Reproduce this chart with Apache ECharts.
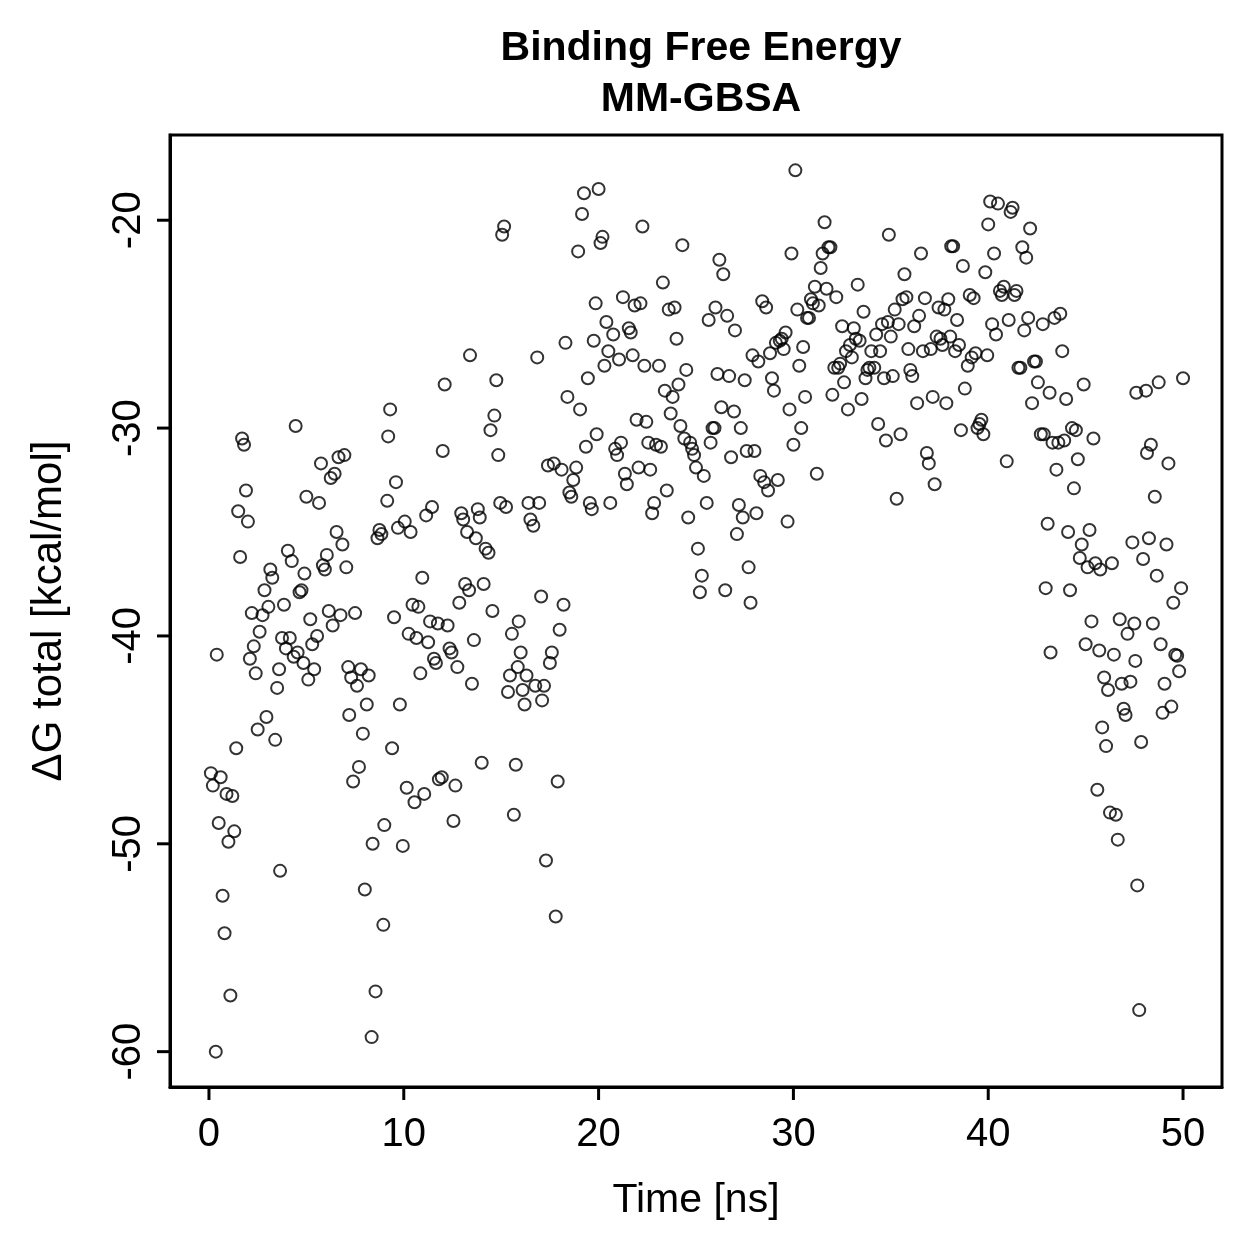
<!DOCTYPE html>
<html>
<head>
<meta charset="utf-8">
<title>Binding Free Energy MM-GBSA</title>
<script src="https://cdn.jsdelivr.net/npm/echarts@6/dist/echarts.min.js"></script>
<style>
  html, body { margin: 0; padding: 0; background: #fff; }
  #chartBox { width: 1259px; height: 1259px; }
</style>
</head>
<body>
<div id="chartBox"></div>
<script>
// [time (ns), dG total (kcal/mol)], in 10 ns blocks
const block0to10 = [
  [0.1,-46.6],[0.2,-47.2],[0.35,-60.0],[0.4,-40.9],[0.5,-49.0],[0.6,-46.8],[0.7,-52.5],[0.8,-54.3],[0.9,-47.6],[1.0,-49.9],
  [1.1,-57.3],[1.2,-47.7],[1.3,-49.4],[1.4,-45.4],[1.5,-34.0],[1.6,-36.2],[1.7,-30.5],[1.8,-30.8],[1.9,-33.0],[2.0,-34.5],
  [2.1,-41.1],[2.2,-38.9],[2.3,-40.5],[2.4,-41.8],[2.5,-44.5],[2.6,-39.8],[2.75,-39.0],[2.85,-37.8],[2.95,-43.9],[3.05,-38.6],
  [3.15,-36.8],[3.25,-37.2],[3.4,-45.0],[3.5,-42.5],[3.6,-41.6],[3.65,-51.3],[3.75,-40.1],[3.85,-38.5],[3.95,-40.6],[4.05,-35.9],
  [4.15,-40.1],[4.25,-36.4],[4.35,-41.0],[4.45,-29.9],[4.55,-40.8],[4.65,-37.9],[4.75,-37.8],[4.85,-41.3],[4.9,-37.0],[5.0,-33.3],
  [5.1,-42.1],[5.2,-39.2],[5.3,-40.4],[5.4,-41.6],[5.55,-40.0],[5.65,-33.6],[5.75,-31.7],[5.85,-36.6],[5.95,-36.8],[6.05,-36.1],
  [6.15,-38.8],[6.25,-32.4],[6.35,-39.5],[6.45,-32.2],[6.55,-35.0],[6.65,-31.4],[6.75,-39.0],[6.85,-35.6],[6.95,-31.3],[7.05,-36.7],
  [7.15,-41.5],[7.2,-43.8],[7.3,-42.0],[7.4,-47.0],[7.5,-38.9],[7.6,-42.4],[7.7,-46.3],[7.8,-41.6],[7.9,-44.7],[8.0,-52.2],
  [8.1,-43.3],[8.2,-41.9],[8.35,-59.3],[8.4,-50.0],[8.55,-57.1],[8.65,-35.3],[8.75,-34.9],[8.85,-35.1],[8.95,-53.9],[9.0,-49.1],
  [9.15,-33.5],[9.2,-30.4],[9.3,-29.1],[9.4,-45.4],[9.5,-39.1],[9.6,-32.6],[9.7,-34.8],[9.8,-43.3],[9.95,-50.1]
];
const block10to20 = [
  [10.05,-34.5],[10.15,-47.3],[10.25,-39.9],[10.35,-35.0],[10.45,-38.5],[10.55,-48.0],[10.65,-40.1],[10.75,-38.6],[10.85,-41.8],[10.95,-37.2],
  [11.05,-47.6],[11.15,-34.2],[11.25,-40.3],[11.35,-39.3],[11.45,-33.8],[11.55,-41.1],[11.65,-41.3],[11.75,-39.4],[11.8,-46.9],[11.95,-46.8],
  [12.0,-31.1],[12.1,-27.9],[12.25,-39.5],[12.35,-40.6],[12.45,-40.8],[12.55,-48.9],[12.65,-47.2],[12.75,-41.5],[12.85,-38.4],[12.95,-34.1],
  [13.05,-34.4],[13.15,-37.5],[13.25,-35.0],[13.35,-37.8],[13.4,-26.5],[13.5,-42.3],[13.6,-40.2],[13.7,-35.3],[13.8,-33.9],[13.9,-34.3],
  [14.0,-46.1],[14.1,-37.5],[14.2,-35.8],[14.35,-36.0],[14.45,-30.1],[14.55,-38.8],[14.65,-29.4],[14.75,-27.7],[14.85,-31.3],[14.95,-33.6],
  [15.05,-20.7],[15.15,-20.3],[15.25,-33.8],[15.35,-42.7],[15.45,-41.9],[15.55,-39.9],[15.65,-48.6],[15.75,-46.2],[15.85,-41.5],[15.9,-39.3],
  [16.0,-40.8],[16.1,-42.6],[16.2,-43.3],[16.3,-41.9],[16.4,-33.6],[16.5,-34.4],[16.65,-34.7],[16.75,-42.4],[16.85,-26.6],[16.95,-33.6],
  [17.05,-38.1],[17.1,-43.1],[17.2,-42.4],[17.3,-50.8],[17.4,-31.8],[17.5,-41.3],[17.6,-40.8],[17.7,-31.7],[17.8,-53.5],[17.9,-47.0],
  [18.0,-39.7],[18.1,-32.0],[18.2,-38.5],[18.3,-25.9],[18.4,-28.5],[18.5,-33.1],[18.6,-33.3],[18.7,-32.5],[18.85,-31.9],[18.95,-21.5],
  [19.05,-29.1],[19.15,-19.7],[19.25,-18.7],[19.35,-30.9],[19.45,-27.6],[19.55,-33.6],[19.65,-33.9],[19.75,-25.8],[19.85,-24.0],[19.9,-30.3]
];
const block20to30 = [
  [20.0,-18.5],[20.1,-21.1],[20.2,-20.8],[20.3,-27.0],[20.4,-24.9],[20.5,-26.3],[20.6,-33.6],[20.75,-25.5],[20.85,-31.0],[20.95,-31.3],
  [21.05,-26.7],[21.15,-30.7],[21.25,-23.7],[21.35,-32.2],[21.45,-32.7],[21.55,-25.2],[21.65,-25.4],[21.75,-26.5],[21.85,-24.1],[21.95,-29.6],
  [22.05,-31.9],[22.15,-24.0],[22.25,-20.3],[22.35,-27.0],[22.45,-29.7],[22.55,-30.7],[22.65,-32.0],[22.75,-34.1],[22.85,-33.6],[22.95,-30.8],
  [23.1,-27.0],[23.2,-30.9],[23.3,-23.0],[23.4,-28.2],[23.5,-33.0],[23.6,-24.3],[23.7,-29.3],[23.8,-28.5],[23.9,-24.2],[24.0,-25.7],
  [24.1,-27.9],[24.2,-29.9],[24.3,-21.2],[24.4,-30.5],[24.5,-27.2],[24.6,-34.3],[24.7,-30.7],[24.8,-31.0],[24.9,-31.3],[25.0,-31.9],
  [25.1,-35.8],[25.2,-37.9],[25.3,-37.1],[25.4,-32.3],[25.55,-33.6],[25.65,-24.8],[25.75,-30.7],[25.85,-30.0],[25.95,-30.0],[26.0,-24.2],
  [26.1,-27.4],[26.2,-21.9],[26.3,-29.0],[26.4,-22.6],[26.5,-37.8],[26.6,-24.6],[26.7,-27.5],[26.8,-31.4],[26.95,-29.2],[27.0,-25.3],
  [27.1,-35.1],[27.2,-33.7],[27.3,-30.0],[27.4,-34.3],[27.5,-27.7],[27.6,-31.1],[27.7,-36.7],[27.8,-38.4],[27.9,-26.5],[28.0,-31.1],
  [28.1,-34.1],[28.2,-26.8],[28.3,-32.3],[28.4,-23.9],[28.5,-32.6],[28.6,-24.2],[28.7,-33.0],[28.8,-26.4],[28.9,-27.6],[29.0,-28.2],
  [29.1,-25.9],[29.2,-32.5],[29.3,-25.8],[29.4,-25.7],[29.5,-26.2],[29.6,-25.4],[29.7,-34.5],[29.8,-29.1],[29.9,-21.6],[30.0,-30.8]
];
const block30to40 = [
  [30.1,-17.6],[30.2,-24.3],[30.3,-27.0],[30.4,-30.0],[30.5,-26.1],[30.6,-28.5],[30.7,-24.7],[30.8,-24.7],[30.9,-23.8],[31.0,-24.0],
  [31.1,-23.2],[31.2,-32.2],[31.3,-24.1],[31.4,-22.3],[31.5,-21.6],[31.6,-20.1],[31.7,-23.3],[31.8,-21.3],[31.9,-21.3],[32.0,-28.4],
  [32.1,-27.1],[32.2,-23.7],[32.3,-27.1],[32.4,-26.9],[32.5,-25.1],[32.6,-27.8],[32.7,-26.3],[32.8,-29.1],[32.9,-26.0],[33.0,-26.6],
  [33.1,-25.2],[33.2,-25.7],[33.3,-23.1],[33.4,-25.8],[33.5,-28.6],[33.6,-24.4],[33.7,-27.6],[33.8,-27.2],[33.9,-27.1],[34.0,-26.3],
  [34.15,-27.1],[34.25,-25.5],[34.35,-29.8],[34.45,-26.3],[34.55,-25.0],[34.65,-27.6],[34.75,-30.6],[34.85,-24.9],[34.9,-20.7],[35.0,-25.6],
  [35.1,-27.5],[35.2,-24.3],[35.3,-33.4],[35.4,-25.0],[35.5,-30.3],[35.6,-23.8],[35.7,-22.6],[35.8,-23.7],[35.9,-26.2],[36.0,-27.2],
  [36.1,-27.5],[36.2,-25.1],[36.35,-28.8],[36.45,-24.6],[36.55,-21.6],[36.65,-26.3],[36.75,-23.75],[36.85,-31.2],[36.95,-31.7],[37.05,-26.2],
  [37.15,-28.5],[37.25,-32.7],[37.35,-25.6],[37.45,-24.2],[37.55,-25.7],[37.65,-26.0],[37.75,-24.3],[37.85,-28.8],[37.95,-23.8],[38.05,-25.6],
  [38.1,-21.25],[38.2,-21.25],[38.3,-26.3],[38.4,-24.8],[38.5,-26.0],[38.6,-30.1],[38.7,-22.2],[38.8,-28.1],[38.95,-27.0],[39.05,-23.6],
  [39.15,-26.6],[39.25,-23.75],[39.35,-26.4],[39.45,-30.0],[39.55,-29.8],[39.65,-29.6],[39.75,-30.3],[39.85,-22.5],[39.95,-26.5]
];
const block40to50 = [
  [40.0,-20.2],[40.1,-19.1],[40.2,-25.0],[40.3,-21.6],[40.4,-25.5],[40.5,-19.2],[40.6,-23.4],[40.7,-23.6],[40.8,-23.2],[40.95,-31.6],
  [41.05,-24.8],[41.15,-19.6],[41.25,-19.4],[41.35,-23.6],[41.45,-23.4],[41.55,-27.1],[41.65,-27.1],[41.75,-21.3],[41.85,-25.3],[41.95,-21.8],
  [42.05,-24.7],[42.15,-20.4],[42.25,-28.8],[42.35,-26.8],[42.45,-26.8],[42.55,-27.8],[42.7,-30.3],[42.8,-25.0],[42.85,-30.3],[42.95,-37.7],
  [43.05,-34.6],[43.15,-28.3],[43.2,-40.8],[43.3,-30.7],[43.4,-24.7],[43.5,-32.0],[43.6,-30.7],[43.7,-24.5],[43.8,-26.3],[43.9,-30.6],
  [44.0,-28.6],[44.1,-35.0],[44.2,-37.8],[44.3,-30.0],[44.4,-32.9],[44.5,-30.1],[44.6,-31.5],[44.7,-36.25],[44.8,-35.6],[44.9,-27.9],
  [45.0,-40.4],[45.1,-36.7],[45.2,-34.9],[45.3,-39.3],[45.4,-30.5],[45.5,-36.5],[45.6,-47.4],[45.7,-40.7],[45.75,-36.8],[45.85,-44.4],
  [45.95,-42.0],[46.05,-45.3],[46.15,-42.6],[46.25,-48.5],[46.35,-36.5],[46.45,-40.9],[46.55,-48.6],[46.65,-49.8],[46.75,-39.2],[46.85,-42.3],
  [46.95,-43.5],[47.05,-43.8],[47.15,-39.9],[47.3,-42.2],[47.4,-35.5],[47.5,-39.4],[47.55,-41.2],[47.6,-28.3],[47.65,-52.0],[47.75,-58.0],
  [47.85,-45.1],[47.95,-36.3],[48.1,-28.2],[48.15,-31.2],[48.25,-35.3],[48.35,-30.8],[48.45,-39.4],[48.55,-33.3],[48.65,-37.1],[48.75,-27.8],
  [48.85,-40.4],[48.95,-43.7],[49.05,-42.3],[49.15,-35.6],[49.25,-31.7],[49.4,-43.4],[49.5,-38.4],[49.6,-40.9],[49.7,-40.95],[49.8,-41.7],
  [49.9,-37.7],[50.0,-27.6]
];

const xTicks = [0, 10, 20, 30, 40, 50];
const yTicks = [-60, -50, -40, -30, -20];

const points = [].concat(block0to10, block10to20, block20to30, block30to40, block40to50);

const font = 'Liberation Sans, Arial, Helvetica, sans-serif';
const xMin = -2, xMax = 52;
const yMin = -61.7, yMax = -15.9;
const tickLen = 13;

let myChart = echarts.init(document.getElementById('chartBox'), null, { renderer: 'canvas' });
let option = {
  backgroundColor: '#fff',
  animation: false,
  title: [
    {
      text: 'Binding Free Energy',
      left: 696,
      top: 23,
      textAlign: 'center',
      textStyle: { fontFamily: font, fontSize: 41, fontWeight: 'bold', color: '#000' }
    },
    {
      text: 'MM-GBSA',
      left: 696,
      top: 74,
      textAlign: 'center',
      textStyle: { fontFamily: font, fontSize: 41, fontWeight: 'bold', color: '#000' }
    }
  ],
  grid: {
    left: 170,
    right: 37,
    top: 135,
    bottom: 172,
    show: true,
    borderColor: '#000',
    borderWidth: 3,
    backgroundColor: 'transparent'
  },
  xAxis: {
    type: 'value',
    min: xMin,
    max: xMax,
    name: 'Time [ns]',
    nameLocation: 'middle',
    nameGap: 93,
    nameTextStyle: { fontFamily: font, fontSize: 41, color: '#000' },
    axisLine: { show: true, onZero: false, lineStyle: { color: '#000', width: 3 } },
    splitLine: { show: false },
    axisTick: { show: false },
    axisLabel: {
      customValues: xTicks,
      margin: 28,
      fontFamily: font, fontSize: 40, color: '#000'
    }
  },
  yAxis: {
    type: 'value',
    min: yMin,
    max: yMax,
    name: 'ΔG total [kcal/mol]',
    nameLocation: 'middle',
    nameGap: 100,
    nameRotate: 90,
    nameTextStyle: { fontFamily: font, fontSize: 42, color: '#000' },
    axisLine: { show: true, onZero: false, lineStyle: { color: '#000', width: 3 } },
    splitLine: { show: false },
    axisTick: { show: false },
    axisLabel: {
      customValues: yTicks,
      rotate: 90,
      margin: 21,
      fontFamily: font, fontSize: 40, color: '#000'
    }
  },
  series: [
    {
      type: 'scatter',
      data: points,
      symbol: 'circle',
      symbolSize: 12,
      itemStyle: {
        color: 'rgba(0,0,0,0)',
        borderColor: '#000',
        borderWidth: 2
      },
      emphasis: { disabled: true }
    }
  ]
};
myChart.setOption(option, true);

// outward tick marks, positioned through the chart's own axis scales
let tickMarks = [];
xTicks.forEach(function (v) {
  let p = myChart.convertToPixel({ gridIndex: 0 }, [v, yMin]);
  tickMarks.push({
    type: 'line', z: 100, silent: true,
    shape: { x1: p[0], y1: p[1], x2: p[0], y2: p[1] + tickLen },
    style: { stroke: '#000', lineWidth: 3 }
  });
});
yTicks.forEach(function (v) {
  let p = myChart.convertToPixel({ gridIndex: 0 }, [xMin, v]);
  tickMarks.push({
    type: 'line', z: 100, silent: true,
    shape: { x1: p[0], y1: p[1], x2: p[0] - tickLen, y2: p[1] },
    style: { stroke: '#000', lineWidth: 3 }
  });
});
myChart.setOption({ graphic: tickMarks });
</script>
</body>
</html>
